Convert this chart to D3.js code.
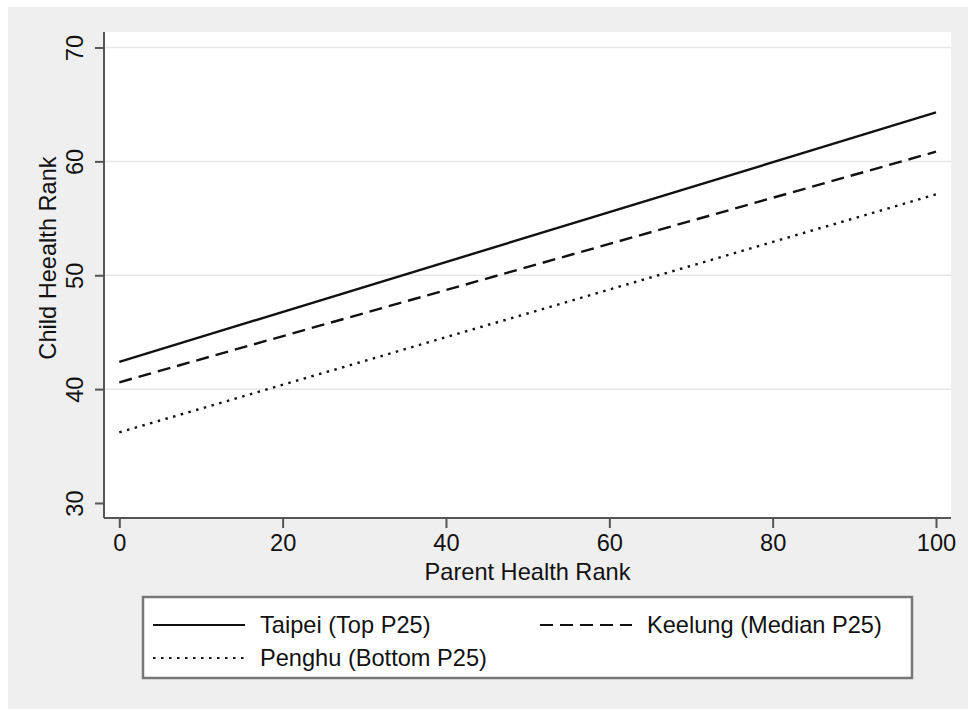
<!DOCTYPE html>
<html><head><meta charset="utf-8">
<script src="https://cdn.jsdelivr.net/npm/d3@7"></script>
<style>body{margin:0;background:#fff}svg{display:block}text{font-family:"Liberation Sans",Arial,Helvetica,sans-serif;fill:#111}</style>
</head><body>
<svg id="chart" width="968" height="709"></svg>
<script>
const xValues = [0, 100];
const taipei = [42.4, 64.3];
const keelung = [40.6, 60.85];
const penghu = [36.2, 57.1];
const seriesNames = ["Taipei (Top P25)", "Keelung (Median P25)", "Penghu (Bottom P25)"];
const xTicks = [0, 20, 40, 60, 80, 100];
const yTicks = [30, 40, 50, 60, 70];
const gridTicks = [40, 50, 60, 70];
const FS = 23.6;

const svg = d3.select("#chart");
svg.append("rect").attr("x", 8).attr("y", 7).attr("width", 960).attr("height", 702).attr("fill", "#efefef");

const L = 104, R = 951, T = 32, B = 518;
const x = d3.scaleLinear().domain([0, 100]).range([119.3, 936]);
const y = d3.scaleLinear().domain([30, 70]).range([503, 47.5]);

svg.append("rect").attr("x", L).attr("y", T).attr("width", R - L).attr("height", B - T).attr("fill", "#fff");

svg.append("g").selectAll("line").data(gridTicks).join("line")
  .attr("x1", L).attr("x2", R).attr("y1", d => y(d)).attr("y2", d => y(d))
  .attr("stroke", "#e6e6e6").attr("stroke-width", 1.5);

const styles = [
  {data: taipei, dash: null},
  {data: keelung, dash: "13,7"},
  {data: penghu, dash: "2.5,5.5"}
];
const line = d3.line().x(d => x(d[0])).y(d => y(d[1]));
styles.forEach(s => {
  svg.append("path").datum(xValues.map((v, i) => [v, s.data[i]]))
    .attr("d", line).attr("fill", "none").attr("stroke", "#111")
    .attr("stroke-width", 2.4).attr("stroke-dasharray", s.dash);
});

// axes
const xAxis = d3.axisBottom(x).tickValues(xTicks).tickSize(10).tickPadding(6);
const gx = svg.append("g").attr("transform", `translate(0,${B})`).call(xAxis);
gx.select(".domain").attr("d", `M${L},0H${R}`);
gx.selectAll(".domain,.tick line").attr("stroke", "#555").attr("stroke-width", 2);
gx.selectAll("text").attr("font-size", FS).attr("font-family", null).attr("fill", "#111");

const yAxis = d3.axisLeft(y).tickValues(yTicks).tickSize(9).tickPadding(0);
const gy = svg.append("g").attr("transform", `translate(${L},0)`).call(yAxis);
gy.select(".domain").attr("d", `M0,${T}V${B}`);
gy.selectAll(".domain,.tick line").attr("stroke", "#555").attr("stroke-width", 2);
gy.selectAll(".tick text").attr("font-size", FS).attr("font-family", null).attr("fill", "#111")
  .attr("x", null).attr("dy", null)
  .attr("transform", "translate(-29,0) rotate(-90)")
  .attr("text-anchor", "middle").attr("dominant-baseline", "central");

svg.append("text").attr("x", 527.5).attr("y", 572).attr("text-anchor", "middle")
  .attr("dominant-baseline", "central").attr("font-size", FS).text("Parent Health Rank");
svg.append("text").attr("transform", "translate(48,258) rotate(-90)").attr("text-anchor", "middle")
  .attr("dominant-baseline", "central").attr("font-size", FS).text("Child Heealth Rank");

// legend
const lg = svg.append("g");
lg.append("rect").attr("x", 143).attr("y", 597).attr("width", 769).attr("height", 81)
  .attr("fill", "#fff").attr("stroke", "#777").attr("stroke-width", 2.5);
const legendItems = [
  {name: seriesNames[0], dash: null, lx: 153, tx: 260, cy: 625},
  {name: seriesNames[1], dash: "13,7", lx: 540, tx: 647, cy: 625},
  {name: seriesNames[2], dash: "2.5,5.5", lx: 153, tx: 260, cy: 658}
];
legendItems.forEach(it => {
  lg.append("line").attr("x1", it.lx).attr("x2", it.lx + 92).attr("y1", it.cy).attr("y2", it.cy)
    .attr("stroke", "#111").attr("stroke-width", 2).attr("stroke-dasharray", it.dash);
  lg.append("text").attr("x", it.tx).attr("y", it.cy).attr("dominant-baseline", "central")
    .attr("font-size", FS).text(it.name);
});
</script>
</body></html>
